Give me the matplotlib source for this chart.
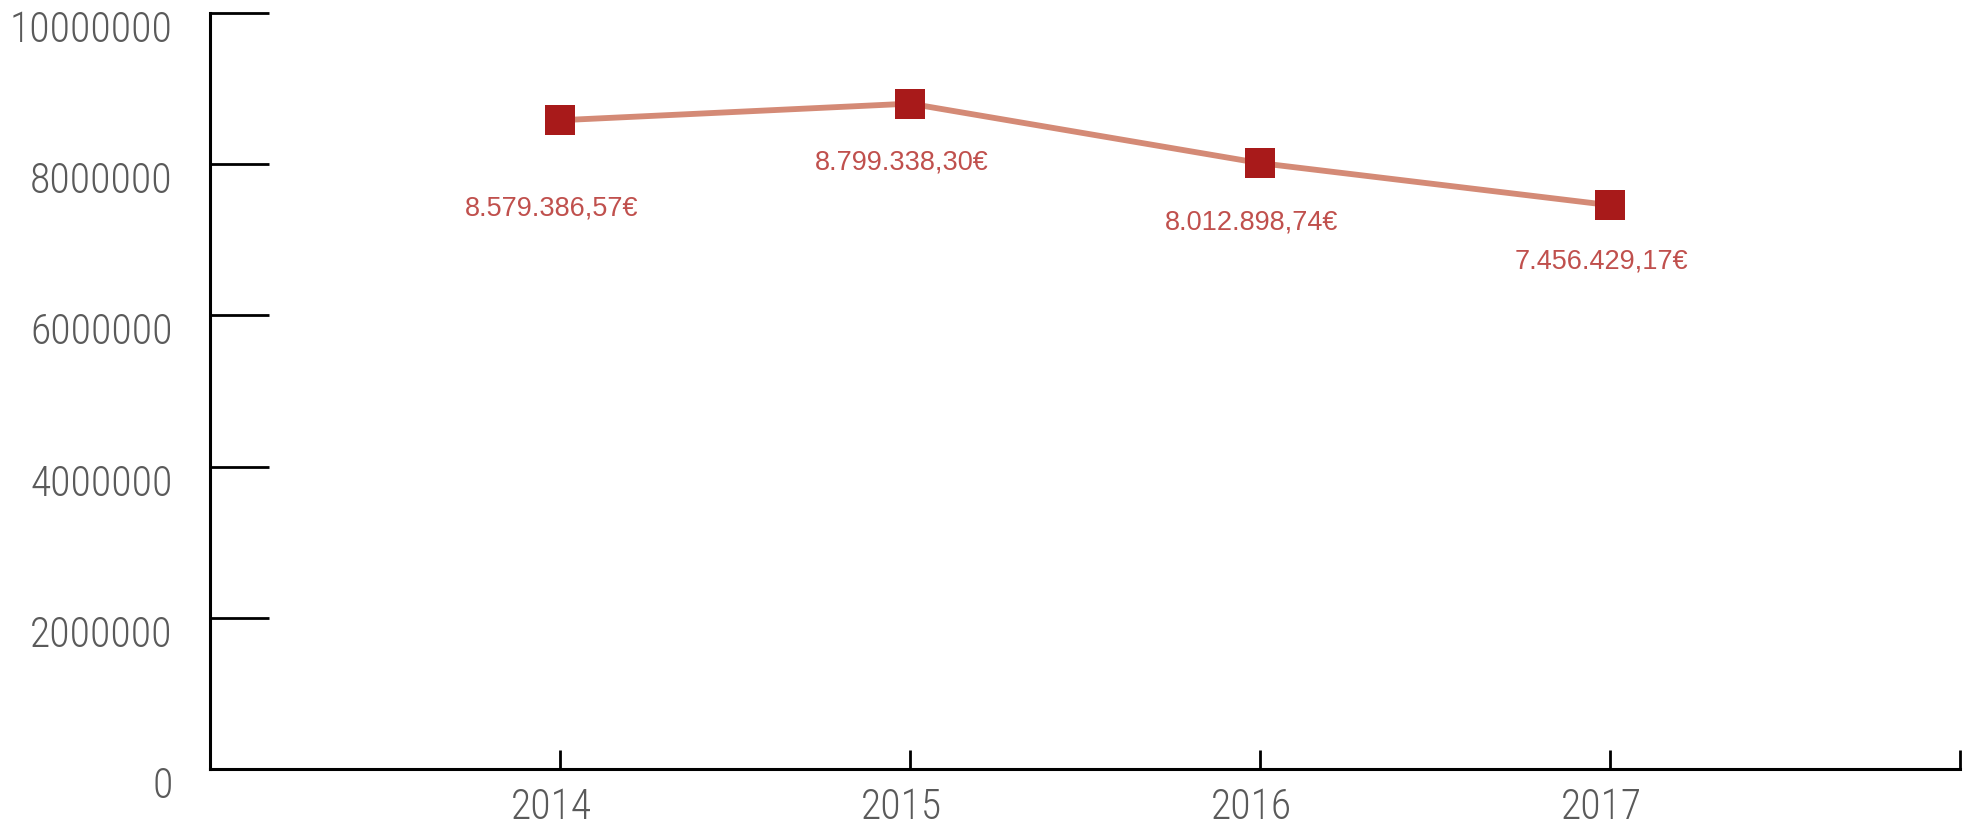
import numpy as np
import matplotlib.pyplot as plt
import matplotlib.transforms as mtransforms
from matplotlib import font_manager

years = [2014, 2015, 2016, 2017]
valeurs = [8579386.57, 8799338.30, 8012898.74, 7456429.17]
etiquettes = ['8.579.386,57€', '8.799.338,30€', '8.012.898,74€', '7.456.429,17€']
yticks = [0, 2000000, 4000000, 6000000, 8000000, 10000000]
ytick_labels = ['0', '2000000', '4000000', '6000000', '8000000', '10000000']

# decalage vertical des etiquettes (en points)
decal_y = [-63, -42, -42, -40]

# police etroite pour les graduations, selon ce qui est installe
dispo = set(f.name for f in font_manager.fontManager.ttflist)
choix = [('Roboto Condensed', 30), ('Liberation Sans Narrow', 31), ('DejaVu Sans Condensed', 26),
	('Roboto', 25.5), ('DejaVu Sans', 22.5)]
for nom, taille in choix:
	if nom in dispo:
		fontTicks = [nom, 'DejaVu Sans']
		tailleTicks = taille
		break

fontLabels = ['Liberation Sans', 'DejaVu Sans']

fig = plt.figure(figsize=(19.7, 8.28), dpi=100)
ax = fig.add_axes([0.1066, 0.0700, 0.8883, 0.9133])

ax.plot(years, valeurs, color='#D48A76', linewidth=4.2, zorder=2)
ax.plot(years, valeurs, linestyle='none', marker='s', markersize=21.6,
	markerfacecolor='#A81A1A', markeredgewidth=0, zorder=3)

for i in range(len(years)):
	ax.annotate(etiquettes[i], (years[i], valeurs[i]), xytext=(-6, decal_y[i]),
		textcoords='offset points', ha='center', va='center',
		fontsize=19.5, color='#C0504D', family=fontLabels)

ax.set_xlim(2013, 2018)
ax.set_ylim(0, 10000000)
ax.set_xticks([2013, 2014, 2015, 2016, 2017, 2018])
ax.set_xticklabels(['', '2014', '2015', '2016', '2017', ''])
ax.set_yticks(yticks)
ax.set_yticklabels(ytick_labels)

ax.spines['top'].set_visible(False)
ax.spines['right'].set_visible(False)
ax.spines['left'].set_linewidth(2.2)
ax.spines['bottom'].set_linewidth(2.2)

ax.tick_params(axis='y', direction='in', length=42.5, width=2, pad=27,
	labelsize=tailleTicks, labelcolor='#5A5A5A')
ax.tick_params(axis='x', direction='in', length=13.7, width=2, pad=12,
	labelsize=tailleTicks, labelcolor='#5A5A5A')

for lab in ax.get_yticklabels():
	lab.set_family(fontTicks)
	lab.set_fontweight('light')
	lab.set_transform(lab.get_transform() + mtransforms.ScaledTranslation(0, -12/100, fig.dpi_scale_trans))
for lab in ax.get_xticklabels():
	lab.set_family(fontTicks)
	lab.set_fontweight('light')
	lab.set_transform(lab.get_transform() + mtransforms.ScaledTranslation(-9/100, 0, fig.dpi_scale_trans))

fig.savefig('out.png', dpi=100)
